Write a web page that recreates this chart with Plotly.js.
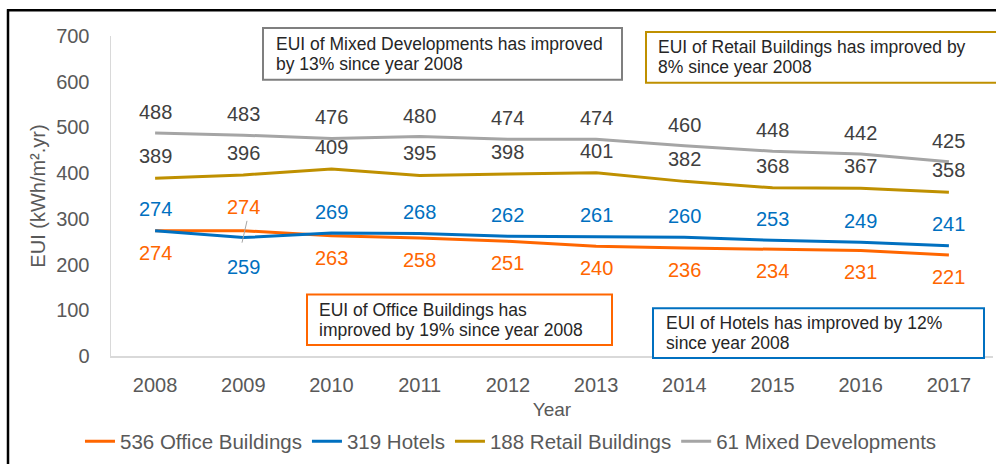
<!DOCTYPE html>
<html><head><meta charset="utf-8">
<script src="https://cdn.plot.ly/plotly-3.0.1.min.js"></script>
<style>html,body{margin:0;padding:0;background:#fff;} #chart{width:996px;height:464px;}</style>
</head><body><div id="chart"></div>
<script>
// ---- data ----
const years = ['2008','2009','2010','2011','2012','2013','2014','2015','2016','2017'];
const office = [274,274,263,258,251,240,236,234,231,221];
const hotels = [274,259,269,268,262,261,260,253,249,241];
const retail = [389,396,409,395,398,401,382,368,367,358];
const mixed  = [488,483,476,480,474,474,460,448,442,425];
const seriesNames = ['536 Office Buildings','319 Hotels','188 Retail Buildings','61 Mixed Developments'];
const yTicks = [0,100,200,300,400,500,600,700];
const officeLabelSide = ['below','above','below','below','below','below','below','below','below','below'];
const hotelsLabelSide = ['above','below','above','above','above','above','above','above','above','above'];
const noteMixed  = ['EUI of Mixed Developments has improved','by 13% since year 2008'];
const noteRetail = ['EUI of Retail Buildings has improved by','8% since year 2008'];
const noteOffice = ['EUI of Office Buildings has','improved by 19% since year 2008'];
const noteHotels = ['EUI of Hotels has improved by 12%','since year 2008'];

// ---- style ----
const C = {office:'#FF6600', hotels:'#0070C0', retail:'#BF9000', mixed:'#A5A5A5', dark:'#404040', axis:'#595959'};
const FONT = 'Liberation Sans, Arial, sans-serif';
const W = 996, H = 464, M = {l:111, r:3, t:36, b:106};
const pw = W - M.l - M.r, ph = H - M.t - M.b;
const px = x => (x - M.l) / pw;
const py = y => (H - M.b - y) / ph;

function mkTrace(name, vals, color){
  return {type:'scatter', mode:'lines', x:years, y:vals, name:name,
          line:{color:color, width:3}, hoverinfo:'skip'};
}
const traces = [
  mkTrace(seriesNames[0], office, C.office),
  mkTrace(seriesNames[1], hotels, C.hotels),
  mkTrace(seriesNames[2], retail, C.retail),
  mkTrace(seriesNames[3], mixed, C.mixed)
];

const annotations = [];
function addLabels(vals, color, sides, upShift, downShift){
  vals.forEach((v,i)=>{
    const side = sides ? sides[i] : 'above';
    annotations.push({x:i, y:v, xref:'x', yref:'y', text:String(v), showarrow:false,
      xanchor:'center', yanchor:'middle', yshift: side==='above'? upShift : downShift,
      font:{family:FONT, size:20, color:color}});
  });
}
addLabels(mixed, C.dark, null, 21, -21);
addLabels(retail, C.dark, null, 22, -22);
addLabels(hotels, C.hotels, hotelsLabelSide, 21.5, -29);
addLabels(office, C.office, officeLabelSide, 24, -22);

const shapes = [];
function addNote(lines, color, left, top, right, bottom, textLeft){
  shapes.push({type:'rect', xref:'paper', yref:'paper', x0:px(left), x1:px(right), y0:py(bottom), y1:py(top),
    fillcolor:'#ffffff', line:{color:color, width:2}, layer:'above'});
  const mid = (top + bottom) / 2;
  lines.forEach((t, k)=>{
    const cy = mid + (k - (lines.length - 1) / 2) * 20;
    annotations.push({xref:'paper', yref:'paper', x:px(textLeft), y:py(cy), xanchor:'left', yanchor:'middle',
      text:t, showarrow:false, align:'left', font:{family:FONT, size:17.5, color:'#262626'}});
  });
}
addNote(noteMixed, '#7F7F7F', 263, 28, 622, 80, 274);
addNote(noteRetail, C.retail, 646, 32, 1002, 83, 656);
addNote(noteOffice, C.office, 307, 296, 612, 347, 317);
addNote(noteHotels, C.hotels, 653, 310, 984, 360, 664);

// outer frame + leader line for the 2009 labels
shapes.push(
  {type:'line', xref:'paper', yref:'paper', x0:px(8), x1:px(8), y0:py(9), y1:py(470), line:{color:'#000', width:2.5}},
  {type:'line', xref:'paper', yref:'paper', x0:px(7), x1:px(1000), y0:py(10), y1:py(10), line:{color:'#000', width:2.5}},
  {type:'line', xref:'paper', yref:'paper', x0:px(247), x1:px(242), y0:py(222), y1:py(244), line:{color:'#A6A6A6', width:1}}
);

const layout = {
  width:W, height:H, margin:M, paper_bgcolor:'#fff', plot_bgcolor:'#fff',
  font:{family:FONT, color:C.axis},
  showlegend:true,
  legend:{orientation:'h', x:0.4535, xanchor:'center', y:py(444), yanchor:'middle',
          font:{family:FONT, size:20.5, color:C.axis}, traceorder:'normal', itemwidth:30},
  xaxis:{type:'category', range:[-0.5, 9.5], showline:true, linecolor:'#D9D9D9', linewidth:1.5,
         showgrid:false, zeroline:false, ticks:'', tickfont:{family:FONT, size:20, color:C.axis},
         ticklabelstandoff:10, fixedrange:true,
         title:{text:'Year', font:{family:FONT, size:19, color:C.axis}, standoff:8}},
  yaxis:{range:[0,700], tickvals:yTicks, ticktext:yTicks.map(String), showline:true, linecolor:'#D9D9D9', linewidth:1.5,
         showgrid:false, zeroline:false, ticks:'', tickfont:{family:FONT, size:20, color:C.axis},
         ticklabelstandoff:16, fixedrange:true,
         title:{text:'EUI (kWh/m².yr)', font:{family:FONT, size:20, color:C.axis}, standoff:5}},
  annotations:annotations, shapes:shapes
};
Plotly.newPlot('chart', traces, layout, {staticPlot:true, displayModeBar:false});
</script></body></html>
